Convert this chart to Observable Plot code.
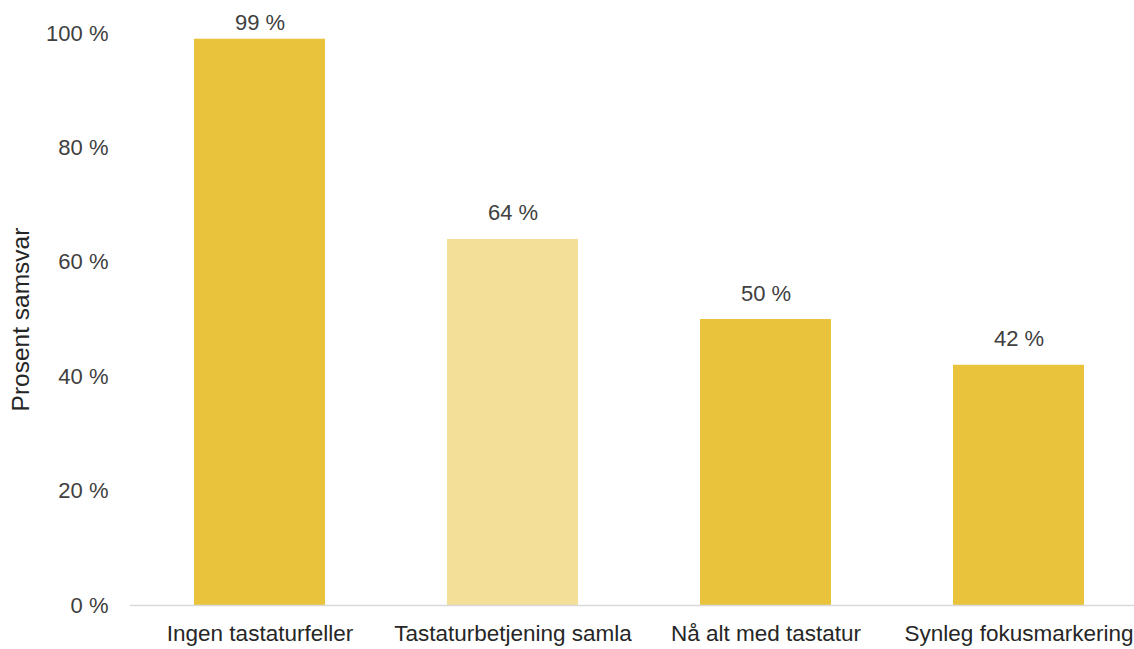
<!DOCTYPE html>
<html>
<head>
<meta charset="utf-8">
<script src="https://cdn.jsdelivr.net/npm/d3@7"></script>
<script src="https://cdn.jsdelivr.net/npm/@observablehq/plot@0.6"></script>
<style>
  html, body { margin: 0; padding: 0; background: #fff; }
  #chart svg { display: block; }
</style>
</head>
<body>
<div id="chart"></div>
<script>
const categories = ["Ingen tastaturfeller", "Tastaturbetjening samla", "Nå alt med tastatur", "Synleg fokusmarkering"];
const values = [99, 64, 50, 42];
const barColors = ["#E8C33B", "#F3DF98", "#E8C33B", "#E8C33B"];
const yTicks = [0, 20, 40, 60, 80, 100];
const yLabel = "Prosent samsvar";

const data = categories.map((c, i) => ({category: c, value: values[i], color: barColors[i]}));

const font = "Liberation Sans, Arial, sans-serif";

const chart = Plot.plot({
  width: 1134,
  height: 649,
  marginLeft: 130,
  marginRight: 0,
  marginTop: 33,
  marginBottom: 44,
  style: {fontFamily: font, fontSize: "22px", color: "#404040", background: "#fff"},
  x: {domain: categories, range: [131, 1146], paddingInner: 0.4838, paddingOuter: 0.2419, label: null},
  y: {domain: [0, 100], range: [605, 33], label: null},
  marks: [
    Plot.barY(data, {x: "category", y: "value", fill: "color"}),
    Plot.ruleY([0], {stroke: "#D9D9D9", strokeWidth: 1.5}),
    Plot.text(data.filter(d => d.value < 95), {x: "category", y: "value", text: d => `${d.value} %`, dy: -26, fill: "#404040", fontSize: 22}),
    Plot.text(data.filter(d => d.value >= 95), {x: "category", y: "value", text: d => `${d.value} %`, dy: -16, fill: "#404040", fontSize: 22}),
    Plot.axisY(yTicks, {tickSize: 0, tickPadding: 22, tickFormat: d => `${d} %`, fontSize: 22, label: null, fill: "#404040"}),
    Plot.axisY({tickSize: 0, ticks: [], label: yLabel, labelAnchor: "center", labelArrow: "none", labelOffset: 119, fontSize: 24.5, fill: "#262626"}),
    Plot.axisX({tickSize: 0, tickPadding: 20, fontSize: 22.5, label: null, fill: "#262626"})
  ]
});
document.getElementById("chart").appendChild(chart);
</script>
</body>
</html>
